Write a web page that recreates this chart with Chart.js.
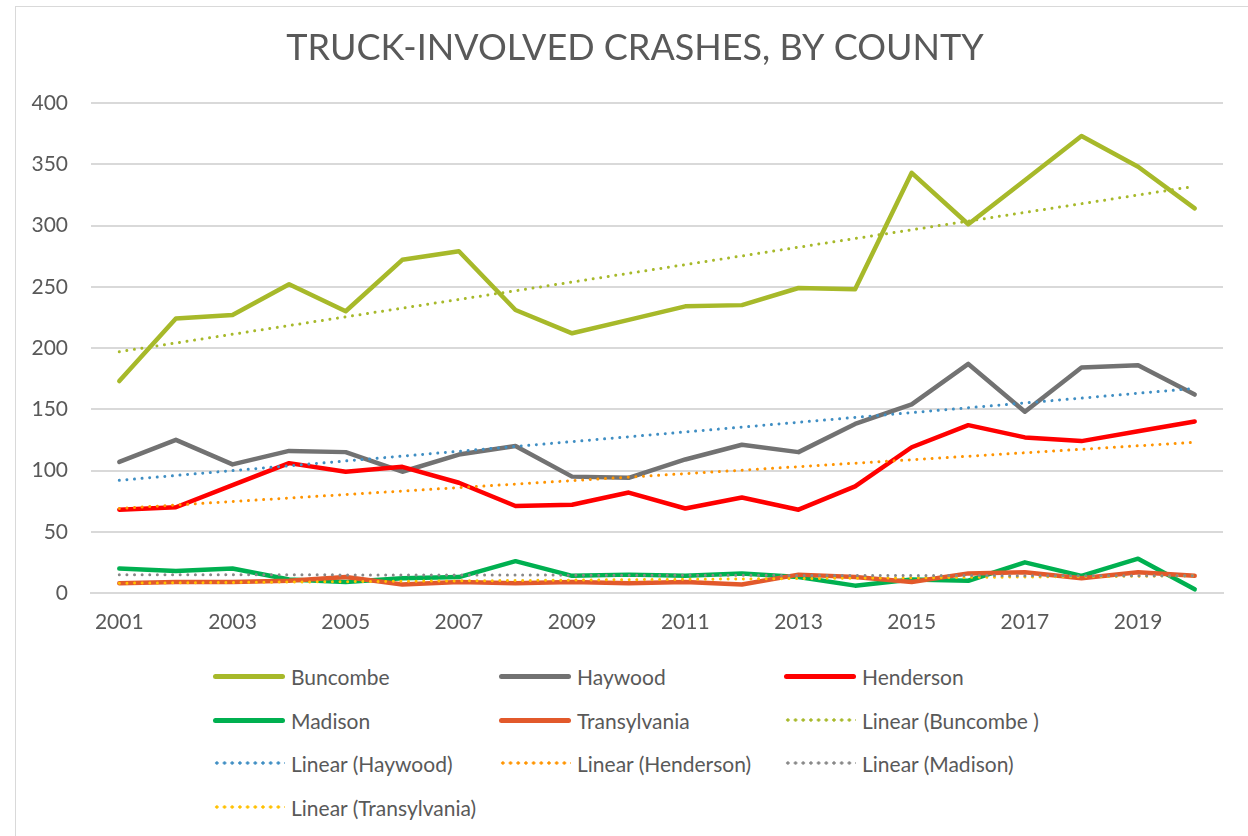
<!DOCTYPE html>
<html>
<head>
<meta charset="utf-8">
<script src="https://cdn.jsdelivr.net/npm/chart.js@4.4.1/dist/chart.umd.min.js"></script>
<style>
  html, body { margin: 0; padding: 0; background: #fff; overflow: hidden; }
  body { width: 1248px; height: 836px; position: relative; font-family: Lato, "Open Sans", sans-serif; }
  #frame { position: absolute; left: 15px; top: 6px; width: 1400px; height: 1000px; border: 1.5px solid #d9d9d9; box-sizing: border-box; }
  #wrap { position: absolute; left: 0; top: 0; width: 1248px; height: 640px; }
  #legend { position: absolute; left: 0; top: 654px; width: 1248px; }
  .item { position: absolute; height: 44px; display: flex; align-items: center; font-size: 21px; color: #595959; white-space: nowrap; }
  .swatch { width: 72px; height: 5px; margin-right: 6px; border-radius: 3px; }
</style>
</head>
<body>
<div id="frame"></div>
<div id="wrap"><canvas id="c"></canvas></div>
<div id="legend"></div>
<script>
const years = ['2001','2002','2003','2004','2005','2006','2007','2008','2009','2010',
               '2011','2012','2013','2014','2015','2016','2017','2018','2019','2020'];
const buncombe     = [173, 224, 227, 252, 230, 272, 279, 231, 212, 223, 234, 235, 249, 248, 343, 301, 337, 373, 348, 314];
const haywood      = [107, 125, 105, 116, 115,  99, 113, 120,  95,  94, 109, 121, 115, 138, 154, 187, 148, 184, 186, 162];
const henderson    = [ 68,  70,  88, 106,  99, 103,  90,  71,  72,  82,  69,  78,  68,  87, 119, 137, 127, 124, 132, 140];
const madison      = [ 20,  18,  20,  11,   9,  12,  13,  26,  14,  15,  14,  16,  13,   6,  11,  10,  25,  14,  28,   3];
const transylvania = [  8,   9,   9,  10,  13,   7,   9,   8,   9,   8,   9,   7,  15,  13,   9,  16,  17,  12,  17,  14];
const seriesNames  = ['Buncombe', 'Haywood', 'Henderson', 'Madison', 'Transylvania'];
const trendNames   = ['Linear (Buncombe )', 'Linear (Haywood)', 'Linear (Henderson)', 'Linear (Madison)', 'Linear (Transylvania)'];
// linear trend line end values (first and last year)
const trendStart   = [197, 92, 69, 15, 8];
const trendEnd     = [332, 167, 123, 14, 14];
const yTicks       = [0, 50, 100, 150, 200, 250, 300, 350, 400];
const titleText    = 'TRUCK-INVOLVED CRASHES, BY COUNTY';

const lineColors  = ['#A7B92A', '#727272', '#FF0000', '#00B050', '#E2592B'];
const trendColors = ['#A7B92A', '#3F8EC3', '#FF9400', '#888888', '#FFC000'];
const seriesData = [buncombe, haywood, henderson, madison, transylvania];

const datasets = [];
seriesNames.forEach((n, i) => {
  datasets.push({
    label: n, data: seriesData[i], borderColor: lineColors[i], backgroundColor: lineColors[i],
    borderWidth: 4.5, pointRadius: 0, borderCapStyle: 'round', borderJoinStyle: 'round',
    tension: 0, fill: false, order: 5 - i, _kind: 'solid'
  });
});
trendNames.forEach((n, i) => {
  datasets.push({
    label: n,
    data: [{x: years[0], y: trendStart[i]}, {x: years[years.length - 1], y: trendEnd[i]}],
    borderColor: trendColors[i], backgroundColor: trendColors[i],
    borderWidth: 3, borderDash: [0.01, 7.6], borderCapStyle: 'round',
    pointRadius: 0, tension: 0, fill: false, order: 0, _kind: 'dot'
  });
});

const FONT = 'Lato, "Open Sans", sans-serif';
const titlePlugin = {
  id: 'centeredTitle',
  afterDraw(ch) {
    const ctx = ch.ctx;
    ctx.save();
    ctx.font = 'normal 36px ' + FONT;
    ctx.fillStyle = '#595959';
    ctx.textAlign = 'center';
    ctx.textBaseline = 'middle';
    ctx.fillText(titleText, 635, 48);
    ctx.restore();
  }
};

const chart = new Chart(document.getElementById('c'), {
  type: 'line',
  data: { labels: years, datasets },
  plugins: [titlePlugin],
  options: {
    responsive: true, maintainAspectRatio: false, animation: false,
    layout: { padding: { left: 0, right: 25, top: 103, bottom: 0 } },
    plugins: {
      legend: { display: false },
      tooltip: { enabled: false },
      title: { display: false }
    },
    scales: {
      x: {
        type: 'category', offset: true,
        grid: { display: false, drawTicks: false },
        border: { display: true, color: '#d9d9d9', width: 2 },
        ticks: {
          autoSkip: false, maxRotation: 0, padding: 17, color: '#595959',
          font: { family: FONT, size: 21 },
          callback: function (v, idx) { return idx % 2 === 0 ? this.getLabelForValue(v) : ''; }
        },
        afterFit: (a) => { a.height = 47; }
      },
      y: {
        min: 0, max: 400,
        afterBuildTicks: (a) => { a.ticks = yTicks.map(v => ({ value: v })); },
        grid: { color: '#d9d9d9', lineWidth: 2, drawTicks: false },
        border: { display: false },
        ticks: { padding: 23, color: '#595959', font: { family: FONT, size: 21 } },
        afterFit: (a) => { a.width = 91; }
      }
    }
  }
});

// legend in three columns, built from the chart datasets
const leg = document.getElementById('legend');
const colX = [213, 499, 784];
const rowY = [0, 44, 87, 131];
chart.data.datasets.forEach((ds, k) => {
  const it = document.createElement('div');
  it.className = 'item';
  it.style.left = colX[k % 3] + 'px';
  it.style.top = rowY[Math.floor(k / 3)] + 'px';
  const sw = document.createElement('div');
  sw.className = 'swatch';
  if (ds._kind === 'solid') {
    sw.style.background = ds.borderColor;
  } else {
    sw.style.height = '4px';
    sw.style.background = 'radial-gradient(circle, ' + ds.borderColor + ' 1.4px, transparent 1.9px) 0 0 / 7.7px 4px repeat-x';
  }
  it.appendChild(sw);
  const t = document.createElement('span');
  t.textContent = ds.label;
  it.appendChild(t);
  leg.appendChild(it);
});
</script>
</body>
</html>
